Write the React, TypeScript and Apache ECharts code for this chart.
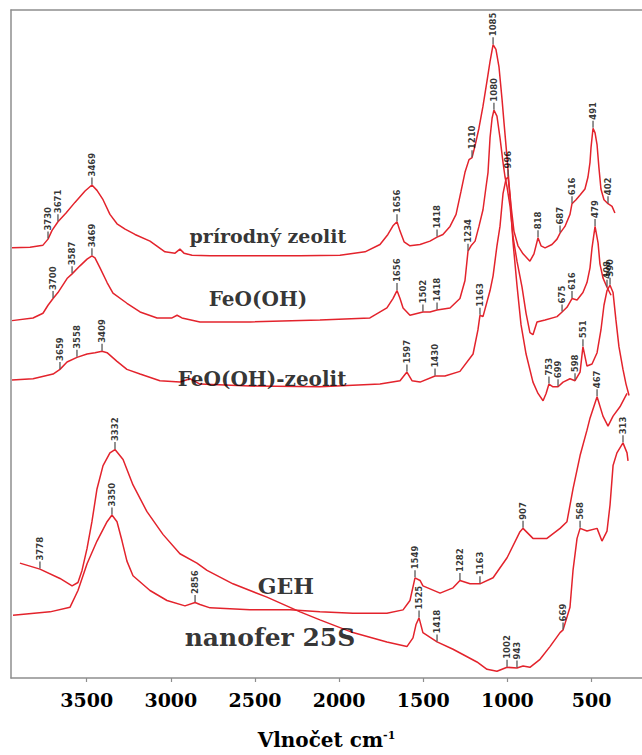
import React, { useEffect, useRef } from "react";
import * as echarts from "echarts";

type Pt = [number, number];

// wavenumber (cm-1), relative intensity (a.u., 0-100, curves offset)
const zeolit: Pt[] = [[3944,64.4],[3837,64.5],[3760,64.8],[3730,65.7],[3706,67.0],[3671,68.3],[3623,69.6],[3570,71.2],[3510,72.9],[3469,73.8],[3439,73.0],[3403,71.6],[3362,69.4],[3320,68.0],[3272,67.2],[3213,66.4],[3124,65.4],[3035,63.8],[2975,63.6],[2946,64.2],[2922,63.6],[2874,63.3],[2767,63.2],[2530,63.2],[2232,63.2],[1995,63.3],[1846,63.8],[1757,64.9],[1710,66.4],[1680,67.7],[1656,68.3],[1638,66.9],[1614,65.3],[1579,64.7],[1519,64.9],[1460,65.4],[1418,66.0],[1383,66.4],[1341,67.6],[1305,69.4],[1276,72.8],[1252,75.7],[1228,77.6],[1210,77.9],[1192,79.7],[1169,82.3],[1145,85.6],[1121,89.4],[1103,92.3],[1085,94.8],[1068,94.1],[1050,91.5],[1032,86.7],[1020,83.1],[1002,77.9],[990,73.9],[978,70.6],[961,66.9],[937,64.7],[907,63.5],[866,62.4],[842,63.5],[818,65.9],[800,64.7],[776,64.4],[735,64.9],[705,65.7],[687,66.6],[658,67.6],[628,69.4],[616,71.0],[592,71.6],[568,72.3],[539,73.2],[521,75.0],[509,77.2],[503,79.4],[491,82.3],[479,81.6],[467,79.8],[456,76.4],[444,73.2],[426,71.6],[402,71.0],[378,70.6],[361,69.6]];

const feooh: Pt[] = [[3944,53.5],[3819,53.9],[3760,54.6],[3730,55.8],[3700,56.8],[3671,57.7],[3617,59.8],[3587,60.5],[3540,61.7],[3498,62.7],[3469,63.2],[3451,62.9],[3421,61.4],[3379,59.2],[3344,57.6],[3261,56.1],[3183,54.8],[3082,53.9],[2993,53.9],[2963,54.3],[2934,53.9],[2827,53.3],[2530,53.3],[2114,53.6],[1817,53.9],[1716,55.4],[1680,56.8],[1656,58.0],[1638,56.8],[1620,55.4],[1579,54.3],[1502,54.8],[1460,54.8],[1418,55.1],[1341,55.4],[1282,56.8],[1252,59.5],[1234,63.9],[1216,64.7],[1192,65.4],[1169,67.6],[1145,70.1],[1127,73.5],[1115,75.7],[1103,80.9],[1091,83.8],[1080,85.0],[1062,84.1],[1044,80.9],[1026,77.2],[1014,75.0],[1002,73.5],[984,70.6],[967,66.1],[943,62.4],[913,58.5],[889,54.6],[866,51.7],[848,51.4],[824,53.3],[776,53.6],[705,54.1],[675,54.8],[646,55.5],[616,56.8],[586,56.6],[551,57.7],[527,59.2],[509,61.4],[497,64.4],[479,67.6],[461,65.1],[450,62.0],[432,59.9],[408,58.5],[384,57.3]];

const feoohZeolit: Pt[] = [[3944,44.6],[3819,44.8],[3700,45.5],[3659,46.2],[3617,47.3],[3558,48.0],[3498,48.5],[3451,48.7],[3409,48.9],[3379,48.7],[3320,47.4],[3261,46.2],[3183,45.5],[3065,44.5],[2946,44.3],[2886,44.8],[2827,44.0],[2530,43.7],[2114,43.6],[1757,44.0],[1638,44.5],[1597,45.8],[1567,44.5],[1519,44.3],[1430,45.2],[1371,45.2],[1282,45.9],[1204,48.5],[1175,52.1],[1163,54.3],[1145,54.1],[1103,58.0],[1085,60.2],[1062,64.7],[1044,67.6],[1026,72.5],[1008,74.7],[996,75.0],[984,72.0],[967,65.4],[943,58.8],[919,52.9],[889,48.5],[848,44.3],[818,42.6],[788,41.5],[770,42.6],[753,44.0],[729,43.6],[699,43.6],[669,44.3],[628,44.8],[598,44.5],[568,45.8],[551,49.6],[527,46.7],[497,47.0],[467,48.7],[444,52.1],[426,55.8],[408,58.0],[390,58.8],[372,57.7],[355,53.6],[337,49.6],[313,46.2],[295,44.0],[277,42.3]];

const geh: Pt[] = [[3938,9.4],[3718,9.9],[3599,10.6],[3552,13.1],[3498,17.1],[3439,20.5],[3379,23.4],[3350,24.4],[3320,23.4],[3290,20.5],[3261,17.5],[3225,15.3],[3124,13.1],[3023,11.6],[2916,10.8],[2856,11.3],[2827,11.0],[2767,10.5],[2530,10.2],[2292,10.2],[2114,9.9],[1918,9.7],[1716,9.7],[1620,10.2],[1579,11.6],[1549,15.0],[1519,14.6],[1502,13.8],[1400,12.7],[1323,13.5],[1282,14.6],[1222,14.1],[1163,14.1],[1085,15.0],[1002,18.0],[925,21.9],[907,22.4],[848,20.9],[765,20.9],[687,22.4],[646,23.4],[610,28.3],[568,33.3],[527,37.1],[509,38.9],[467,42.1],[432,39.2],[402,37.7],[372,39.2],[331,40.6],[289,42.6]];

const nanofer: Pt[] = [[3897,17.2],[3778,16.3],[3659,14.9],[3587,13.8],[3552,14.3],[3528,16.1],[3498,19.4],[3469,23.4],[3439,28.3],[3403,31.8],[3362,33.7],[3332,34.2],[3284,32.7],[3225,28.9],[3142,24.9],[3047,21.5],[2946,18.6],[2845,17.2],[2785,16.1],[2631,14.1],[2429,12.1],[2232,9.9],[2114,8.7],[1918,6.8],[1716,5.4],[1597,4.7],[1561,6.0],[1543,8.0],[1525,9.0],[1502,6.8],[1418,5.4],[1323,4.3],[1181,2.4],[1121,1.3],[1062,1.0],[1002,1.6],[943,1.5],[907,1.8],[866,1.6],[806,2.8],[747,4.7],[687,6.8],[669,7.2],[628,10.6],[610,16.1],[586,20.9],[568,22.4],[527,22.0],[467,22.4],[438,20.5],[408,22.0],[390,25.9],[372,31.8],[349,33.7],[313,35.2],[289,33.7],[283,32.5]];

// annotated band positions (cm-1)
const zeolitPeaks = [3730, 3671, 3469, 1656, 1418, 1210, 1085, 818, 687, 616, 491, 402];
const feoohPeaks = [3700, 3587, 3469, 1656, 1502, 1418, 1234, 1080, 675, 616, 479, 408];
const feoohZeolitPeaks = [3659, 3558, 3409, 1597, 1430, 1163, 996, 753, 699, 598, 551, 390];
const gehPeaks = [3350, 2856, 1549, 1282, 1163, 907, 467];
const nanoferPeaks = [3778, 3332, 1525, 1418, 1002, 943, 669, 568, 313];

const xTicks = [3500, 3000, 2500, 2000, 1500, 1000, 500];

const sampleNames = ["prírodný zeolit", "FeO(OH)", "FeO(OH)-zeolit", "GEH", "nanofer 25S"];

const SERIES = [
  { name: sampleNames[0], data: zeolit, peaks: zeolitPeaks },
  { name: sampleNames[1], data: feooh, peaks: feoohPeaks },
  { name: sampleNames[2], data: feoohZeolit, peaks: feoohZeolitPeaks },
  { name: sampleNames[3], data: geh, peaks: gehPeaks },
  { name: sampleNames[4], data: nanofer, peaks: nanoferPeaks },
];

// label placement (layout only)
const nameLayout = [
  { at: [2423, 66.2], size: 19 },
  { at: [2482, 56.8], size: 20 },
  { at: [2458, 44.7], size: 20 },
  { at: [2316, 13.8], size: 22 },
  { at: [2411, 6.0], size: 25 },
];

const SERIF = "DejaVu Serif";
const AXIS_GREY = "#8e8e8e";
const RED = "#e3232c";

export default function App() {
  const ref = useRef<HTMLDivElement>(null);
  useEffect(() => {
    if (!ref.current) return;
    const chart = echarts.init(ref.current, undefined, { renderer: "svg" });

    const lines = SERIES.map((s) => ({
      type: "line",
      name: s.name,
      data: s.data,
      symbol: "none",
      showSymbol: false,
      silent: true,
      lineStyle: { color: RED, width: 1.5 },
      z: 2,
    }));

    const peakMarks = SERIES.map((s) => ({
      type: "scatter",
      name: s.name + " pásy",
      silent: true,
      data: s.peaks.map((w) => {
        const p = s.data.find((d) => d[0] === w) as Pt;
        return [p[0], p[1]];
      }),
      symbol: "rect",
      symbolSize: [1.6, 7],
      symbolOffset: [0, -4],
      itemStyle: { color: "#555" },
      label: {
        show: true,
        position: "top",
        distance: 1,
        rotate: 90,
        align: "left",
        verticalAlign: "middle",
        formatter: (p: any) => String(p.value[0]),
        fontSize: 8.5,
        fontWeight: "bold",
        fontFamily: "DejaVu Sans",
        color: "#000",
      },
      z: 3,
    }));

    const nameSeries = {
      type: "scatter",
      name: "názvy",
      silent: true,
      symbolSize: 1,
      itemStyle: { color: "rgba(0,0,0,0)" },
      data: sampleNames.map((n, i) => ({
        value: nameLayout[i].at,
        label: {
          show: true,
          position: "inside",
          formatter: n,
          fontFamily: SERIF,
          fontWeight: "bold",
          fontSize: nameLayout[i].size,
          color: "#000",
        },
      })),
      z: 4,
    };

    chart.setOption({
      animation: false,
      backgroundColor: "#ffffff",
      grid: { left: 11, right: 0, top: 10, bottom: 66, containLabel: false },
      xAxis: [
        {
          type: "value",
          inverse: true,
          min: 200,
          max: 3950,
          position: "bottom",
          axisLine: { show: true, onZero: false, lineStyle: { color: AXIS_GREY, width: 1.5 } },
          axisTick: { show: true, customValues: xTicks, length: 4, lineStyle: { color: AXIS_GREY, width: 1.2 } },
          axisLabel: {
            customValues: xTicks,
            formatter: (v: number) => String(v),
            fontFamily: SERIF,
            fontWeight: "bold",
            fontSize: 19,
            color: "#000",
            margin: 12,
          },
          splitLine: { show: false },
          name: "{m|Vlnočet cm}{s|-1}",
          nameLocation: "middle",
          nameGap: 52,
          nameTextStyle: {
            rich: {
              m: { fontFamily: SERIF, fontWeight: "bold", fontSize: 20, color: "#000" },
              s: { fontFamily: SERIF, fontWeight: "bold", fontSize: 11, color: "#000", verticalAlign: "top", padding: [0, 0, 8, 0] },
            },
          },
        },
        {
          type: "value",
          inverse: true,
          min: 200,
          max: 3950,
          position: "top",
          axisLine: { show: true, onZero: false, lineStyle: { color: AXIS_GREY, width: 1.5 } },
          axisTick: { show: false },
          axisLabel: { show: false },
          splitLine: { show: false },
        },
      ],
      yAxis: {
        type: "value",
        min: 0,
        max: 100,
        axisLine: { show: true, onZero: false, lineStyle: { color: AXIS_GREY, width: 1.5 } },
        axisTick: { show: false },
        axisLabel: { show: false },
        splitLine: { show: false },
      },
      series: [...lines, ...peakMarks, nameSeries],
    });

    return () => chart.dispose();
  }, []);

  return (
    <div
      ref={ref}
      style={{ position: "fixed", left: 0, top: 0, width: 642, height: 755, background: "#fff" }}
    />
  );
}
